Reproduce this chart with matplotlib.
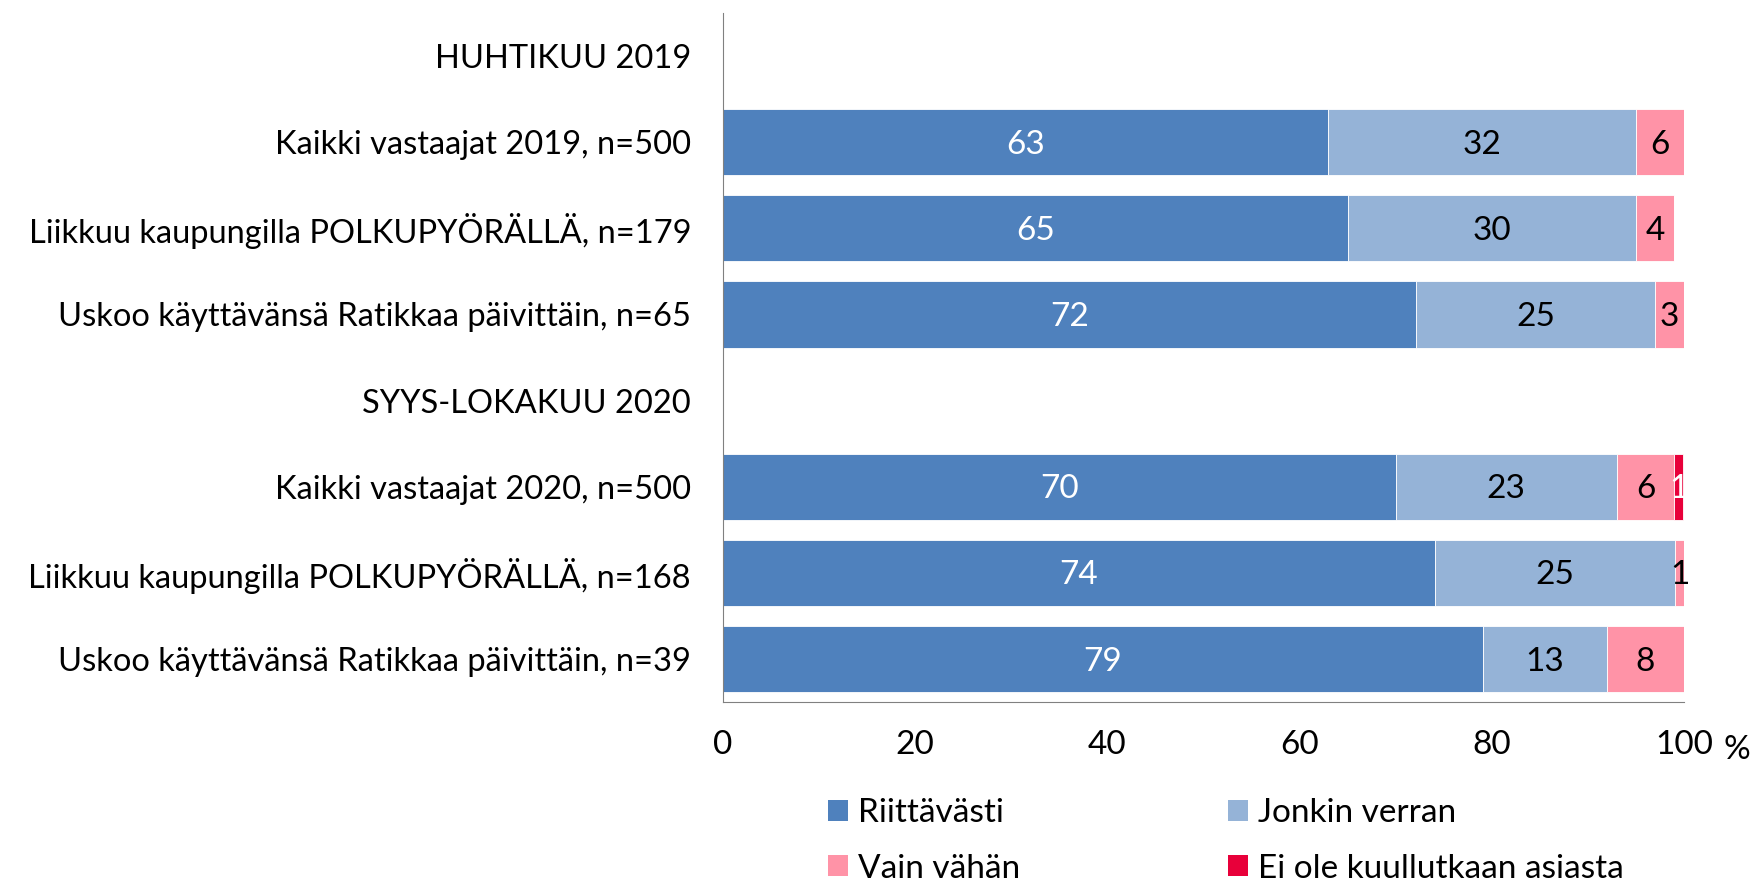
import numpy as np
import matplotlib
matplotlib.use("Agg")
import matplotlib.pyplot as plt
from matplotlib.patches import Patch

plt.rcParams['font.family'] = ['Lato', 'DejaVu Sans']

# rows from top to bottom; header rows have no bars
categories = [
    "HUHTIKUU 2019",
    "Kaikki vastaajat 2019, n=500",
    "Liikkuu kaupungilla POLKUPYÖRÄLLÄ, n=179",
    "Uskoo käyttävänsä Ratikkaa päivittäin, n=65",
    "SYYS-LOKAKUU 2020",
    "Kaikki vastaajat 2020, n=500",
    "Liikkuu kaupungilla POLKUPYÖRÄLLÄ, n=168",
    "Uskoo käyttävänsä Ratikkaa päivittäin, n=39",
]
riittavasti = [0, 63.0, 65.0, 72.1, 0, 70.0, 74.1, 79.1]
jonkin_verran = [0, 32.0, 30.0, 24.9, 0, 23.0, 25.0, 12.9]
vain_vahan = [0, 5.5, 4.0, 3.0, 0, 6.0, 0.9, 8.0]
ei_kuullut = [0, 0, 0, 0, 0, 0.9, 0, 0]

series = ["Riittävästi", "Jonkin verran", "Vain vähän", "Ei ole kuullutkaan asiasta"]
colors = ["#4F81BD", "#95B3D7", "#FF93A7", "#E8003A"]
label_colors = ["white", "black", "black", "white"]
xticks = [0, 20, 40, 60, 80, 100]

fig = plt.figure(figsize=(17.53, 8.86), dpi=100)
ax = fig.add_axes([723 / 1753, 184 / 886, 961 / 1753, 689 / 886])

y = np.arange(len(categories))
left = np.zeros(len(categories))
for vals, col, lc in zip([riittavasti, jonkin_verran, vain_vahan, ei_kuullut],
                         colors, label_colors):
    vals = np.array(vals)
    ax.barh(y, vals, left=left, height=0.77, color=col, edgecolor="white",
            linewidth=0.6)
    for yi, (l, v) in enumerate(zip(left, vals)):
        if v > 0:
            xc = min(l + v / 2, l + (100 - l) / 2)
            ax.text(xc, yi + 0.03, f"{v:.0f}", ha="center", va="center",
                    fontsize=24, color=lc)
    left = left + vals

ax.set_ylim(len(categories) - 0.5, -0.5)
ax.set_xlim(0, 100)
ax.set_yticks(y)
ax.set_yticklabels(categories, fontsize=23.5)
ax.set_xticks(xticks)
ax.set_xticklabels([str(t) for t in xticks], fontsize=24)
ax.tick_params(axis="x", length=0, pad=20)
ax.tick_params(axis="y", length=0, pad=23)
for s in ["top", "right"]:
    ax.spines[s].set_visible(False)
ax.spines["left"].set_color("#808080")
ax.spines["bottom"].set_color("#808080")
ax.text(1.055, -0.07, "%", transform=ax.transAxes, ha="center", va="center",
        fontsize=24)

# legend fills row-wise in the reference: reorder for matplotlib's column fill
handles = [Patch(facecolor=c, label=s) for s, c in zip(series, colors)]
order = [0, 2, 1, 3]
fig.legend(handles=[handles[i] for i in order], loc="center left",
           bbox_to_anchor=(828 / 1753, 1 - 841 / 886),
           ncol=2, frameon=False, fontsize=24, handlelength=0.6, handleheight=0.6,
           handletextpad=0.3, columnspacing=6.25, labelspacing=0.75,
           borderaxespad=0, borderpad=0)

fig.savefig("out.png", dpi=100)
